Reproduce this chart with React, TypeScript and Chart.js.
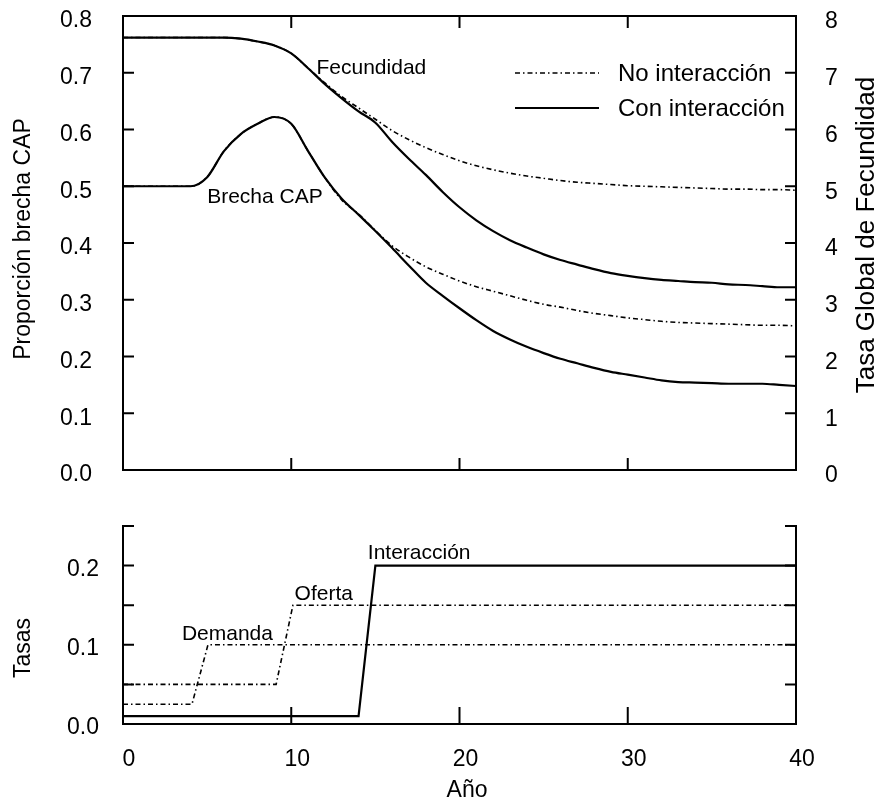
import React, { useEffect, useRef } from "react";
import { Chart, registerables } from "chart.js";

Chart.register(...registerables);

// ---------- data ----------
const years = [
  0, 1, 2, 3, 4, 5, 6, 7, 8, 9, 10, 11, 12, 13, 14, 15, 16, 17, 18, 19, 20,
  21, 22, 23, 24, 25, 26, 27, 28, 29, 30, 31, 32, 33, 34, 35, 36, 37, 38, 39, 40,
];

// Tasa Global de Fecundidad (right axis, 0-8)
const fecundidadNo = [
  7.62, 7.62, 7.62, 7.62, 7.62, 7.62, 7.62, 7.6, 7.55, 7.48, 7.34, 7.08, 6.82,
  6.58, 6.38, 6.18, 5.98, 5.82, 5.68, 5.56, 5.45, 5.36, 5.29, 5.23, 5.18, 5.14,
  5.1, 5.07, 5.05, 5.03, 5.01, 5.0, 4.99, 4.98, 4.97, 4.96, 4.95, 4.95, 4.94,
  4.94, 4.93,
];
const fecundidadCon = [
  7.62, 7.62, 7.62, 7.62, 7.62, 7.62, 7.62, 7.6, 7.55, 7.48, 7.34, 7.08, 6.8,
  6.55, 6.32, 6.12, 5.78, 5.48, 5.2, 4.9, 4.63, 4.4, 4.21, 4.05, 3.92, 3.8, 3.7,
  3.62, 3.54, 3.47, 3.42, 3.38, 3.35, 3.33, 3.31, 3.3, 3.27, 3.26, 3.24, 3.22,
  3.22,
];

// Proporción brecha CAP (left axis, 0-0.8)
const brechaNo = [
  0.5, 0.5, 0.5, 0.5, 0.5, 0.516, 0.562, 0.592, 0.61, 0.622, 0.61, 0.562, 0.515,
  0.476, 0.451, 0.422, 0.395, 0.375, 0.358, 0.345, 0.333, 0.323, 0.315, 0.307,
  0.299, 0.292, 0.287, 0.281, 0.276, 0.272, 0.268, 0.265, 0.262, 0.26, 0.259,
  0.258, 0.257, 0.256, 0.255, 0.255, 0.254,
];
const brechaCon = [
  0.5, 0.5, 0.5, 0.5, 0.5, 0.516, 0.562, 0.592, 0.61, 0.622, 0.61, 0.562, 0.515,
  0.478, 0.45, 0.421, 0.391, 0.36, 0.33, 0.307, 0.285, 0.264, 0.245, 0.23,
  0.217, 0.206, 0.196, 0.188, 0.18, 0.173, 0.168, 0.163, 0.158, 0.155, 0.154,
  0.153, 0.152, 0.152, 0.152, 0.15, 0.148,
];

// Tasas (lower panel)
const demandaYears = [0, 4.1, 5.05, 40];
const demandaValues = [0.025, 0.025, 0.1, 0.1];
const ofertaYears = [0, 9.1, 10.1, 40];
const ofertaValues = [0.05, 0.05, 0.15, 0.15];
const interaccionYears = [0, 14.0, 15.0, 40];
const interaccionValues = [0.01, 0.01, 0.2, 0.2];

// ticks
const xTicks = [0, 10, 20, 30, 40];
const brechaTicks = [0, 0.1, 0.2, 0.3, 0.4, 0.5, 0.6, 0.7, 0.8];
const tgfTicks = [0, 1, 2, 3, 4, 5, 6, 7, 8];
const tasasTicks = [0, 0.05, 0.1, 0.15, 0.2, 0.25];
const tasasLabels = [0, 0.1, 0.2];

// texts
const legendLabels = ["No interacción", "Con interacción"];
const topTitles = { left: "Proporción brecha CAP", right: "Tasa Global de Fecundidad" };
const bottomTitles = { left: "Tasas", x: "Año" };
const topNotes = [
  { text: "Fecundidad", x: 11.5, y: 7.08, axis: "y2" },
  { text: "Brecha CAP", x: 5.0, y: 0.481, axis: "y" },
];
const bottomNotes = [
  { text: "Interacción", x: 14.55, y: 0.216 },
  { text: "Oferta", x: 10.2, y: 0.164 },
  { text: "Demanda", x: 3.5, y: 0.113 },
];

// ---------- layout / style ----------
const W = 881;
const TOP_H = 500;
const BOT_H = 303;
const FONT = "'Liberation Sans', Arial, Helvetica, sans-serif";
const DOTTED = [5, 3, 1.5, 3];

const pts = (xs: number[], ys: number[]) => xs.map((x, i) => ({ x, y: ys[i] }));

function setTicks(values: number[]) {
  return (scale: any) => {
    scale.ticks = values.map((v) => ({ value: v }));
  };
}

function fix(size: { width?: number; height?: number }) {
  return (s: any) => {
    if (size.width !== undefined) s.width = size.width;
    if (size.height !== undefined) s.height = size.height;
    s.paddingTop = 0;
    s.paddingBottom = 0;
    s.paddingLeft = 0;
    s.paddingRight = 0;
  };
}

function drawText(ctx: CanvasRenderingContext2D, text: string, x: number, y: number, size: number, rot = 0, align: CanvasTextAlign = "center") {
  ctx.save();
  ctx.translate(x, y);
  if (rot) ctx.rotate(rot);
  ctx.font = `${size}px ${FONT}`;
  ctx.fillStyle = "#000";
  ctx.textAlign = align;
  ctx.textBaseline = "middle";
  ctx.fillText(text, 0, 0);
  ctx.restore();
}

const topPlugin = {
  id: "topFrame",
  afterDatasetsDraw(chart: any) {
    const { ctx, chartArea, scales } = chart;
    const { left, right, top, bottom } = chartArea;
    ctx.save();
    ctx.strokeStyle = "#000";
    ctx.lineWidth = 2;
    ctx.setLineDash([]);
    ctx.strokeRect(left, top, right - left, bottom - top);
    ctx.beginPath();
    scales.y.ticks.forEach((t: any) => {
      const p = scales.y.getPixelForValue(t.value);
      ctx.moveTo(left, p);
      ctx.lineTo(left + 11, p);
    });
    scales.y2.ticks.forEach((t: any) => {
      const p = scales.y2.getPixelForValue(t.value);
      ctx.moveTo(right, p);
      ctx.lineTo(right - 11, p);
    });
    scales.x.ticks.forEach((t: any) => {
      const p = scales.x.getPixelForValue(t.value);
      ctx.moveTo(p, bottom);
      ctx.lineTo(p, bottom - 12);
      ctx.moveTo(p, top);
      ctx.lineTo(p, top + 12);
    });
    ctx.stroke();

    // legend
    const lx0 = right - 281;
    const lx1 = right - 197;
    const rows = [top + 57, top + 92];
    ctx.lineWidth = 1.6;
    ctx.setLineDash(DOTTED);
    ctx.beginPath();
    ctx.moveTo(lx0, rows[0]);
    ctx.lineTo(lx1, rows[0]);
    ctx.stroke();
    ctx.setLineDash([]);
    ctx.lineWidth = 2.2;
    ctx.beginPath();
    ctx.moveTo(lx0, rows[1]);
    ctx.lineTo(lx1, rows[1]);
    ctx.stroke();
    ctx.restore();
    legendLabels.forEach((l, i) => drawText(ctx, l, lx1 + 19, rows[i] + 1, 24, 0, "left"));

    topNotes.forEach((n) => {
      drawText(ctx, n.text, scales.x.getPixelForValue(n.x), scales[n.axis].getPixelForValue(n.y), 21, 0, "left");
    });

    drawText(ctx, topTitles.left, 24, (top + bottom) / 2 - 4, 23, -Math.PI / 2);
    drawText(ctx, topTitles.right, 867, (top + bottom) / 2 - 8, 26, -Math.PI / 2);
  },
};

const bottomPlugin = {
  id: "bottomFrame",
  afterDatasetsDraw(chart: any) {
    const { ctx, chartArea, scales } = chart;
    const { left, right, top, bottom } = chartArea;
    ctx.save();
    ctx.strokeStyle = "#000";
    ctx.lineWidth = 2;
    ctx.setLineDash([]);
    ctx.lineCap = "square";
    ctx.beginPath();
    ctx.moveTo(left, top);
    ctx.lineTo(left, bottom);
    ctx.lineTo(right, bottom);
    ctx.lineTo(right, top);
    ctx.stroke();
    ctx.lineCap = "butt";
    ctx.beginPath();
    scales.y.ticks.forEach((t: any) => {
      const p = scales.y.getPixelForValue(t.value);
      ctx.moveTo(left, p);
      ctx.lineTo(left + 11, p);
      ctx.moveTo(right, p);
      ctx.lineTo(right - 11, p);
    });
    scales.x.ticks.forEach((t: any) => {
      const p = scales.x.getPixelForValue(t.value);
      ctx.moveTo(p, bottom);
      ctx.lineTo(p, bottom - 17);
    });
    ctx.stroke();
    ctx.restore();

    bottomNotes.forEach((n) => {
      drawText(ctx, n.text, scales.x.getPixelForValue(n.x), scales.y.getPixelForValue(n.y), 21, 0, "left");
    });
    drawText(ctx, bottomTitles.left, 24, 148, 23, -Math.PI / 2);
    drawText(ctx, bottomTitles.x, 467, 291, 23, 0);
  },
};

const tickFont = { family: FONT, size: 23 };

export default function App() {
  const topRef = useRef<HTMLCanvasElement>(null);
  const botRef = useRef<HTMLCanvasElement>(null);

  useEffect(() => {
    const dotted = { borderColor: "#000", borderWidth: 1.6, borderDash: DOTTED, pointRadius: 0, cubicInterpolationMode: "monotone" as const };
    const solid = { borderColor: "#000", borderWidth: 2.2, pointRadius: 0, cubicInterpolationMode: "monotone" as const };

    const top = new Chart(topRef.current!, {
      type: "line",
      data: {
        datasets: [
          { label: "Fecundidad no", data: pts(years, fecundidadNo), yAxisID: "y2", ...dotted },
          { label: "Brecha no", data: pts(years, brechaNo), yAxisID: "y", ...dotted },
          { label: "Fecundidad con", data: pts(years, fecundidadCon), yAxisID: "y2", ...solid },
          { label: "Brecha con", data: pts(years, brechaCon), yAxisID: "y", ...solid },
        ],
      },
      options: {
        animation: false,
        responsive: false,
        devicePixelRatio: 1,
        layout: { padding: { top: 16, left: 0, right: 0, bottom: 0 } },
        plugins: { legend: { display: false }, tooltip: { enabled: false } },
        scales: {
          x: {
            type: "linear",
            min: 0,
            max: 40,
            grid: { display: false },
            border: { display: false },
            ticks: { display: false },
            afterBuildTicks: setTicks(xTicks),
            afterFit: fix({ height: 30 }),
          },
          y: {
            position: "left",
            min: 0,
            max: 0.8,
            grid: { display: false },
            border: { display: false },
            ticks: { font: tickFont, color: "#000", padding: 23, labelOffset: 5, callback: (v: any) => Number(v).toFixed(1) },
            afterBuildTicks: setTicks(brechaTicks),
            afterFit: fix({ width: 123 }),
          },
          y2: {
            position: "right",
            min: 0,
            max: 8,
            grid: { display: false },
            border: { display: false },
            ticks: { font: tickFont, color: "#000", padding: 21, labelOffset: 6, callback: (v: any) => String(Math.round(Number(v))) },
            afterBuildTicks: setTicks(tgfTicks),
            afterFit: fix({ width: W - 796 }),
          },
        },
      },
      plugins: [topPlugin],
    } as any);

    const bottom = new Chart(botRef.current!, {
      type: "line",
      data: {
        datasets: [
          { label: "Demanda", data: pts(demandaYears, demandaValues), ...dotted, cubicInterpolationMode: "default", tension: 0 },
          { label: "Oferta", data: pts(ofertaYears, ofertaValues), ...dotted, cubicInterpolationMode: "default", tension: 0 },
          { label: "Interacción", data: pts(interaccionYears, interaccionValues), ...solid, cubicInterpolationMode: "default", tension: 0 },
        ],
      },
      options: {
        animation: false,
        responsive: false,
        devicePixelRatio: 1,
        layout: { padding: { top: 26, left: 0, right: W - 796, bottom: 0 } },
        plugins: { legend: { display: false }, tooltip: { enabled: false } },
        scales: {
          x: {
            type: "linear",
            min: 0,
            max: 40,
            grid: { display: false },
            border: { display: false },
            ticks: { font: tickFont, color: "#000", padding: 14, labelOffset: 6, maxRotation: 0, callback: (v: any) => String(Math.round(Number(v))) },
            afterBuildTicks: setTicks(xTicks),
            afterFit: fix({ height: 79 }),
          },
          y: {
            position: "left",
            min: 0,
            max: 0.25,
            grid: { display: false },
            border: { display: false },
            ticks: {
              font: tickFont,
              color: "#000",
              padding: 16,
              labelOffset: 4,
              callback: (v: any) => (tasasLabels.some((l) => Math.abs(l - Number(v)) < 1e-6) ? Number(v).toFixed(1) : ""),
            },
            afterBuildTicks: setTicks(tasasTicks),
            afterFit: fix({ width: 123 }),
          },
        },
      },
      plugins: [bottomPlugin],
    } as any);

    return () => {
      top.destroy();
      bottom.destroy();
    };
  }, []);

  return (
    <div style={{ position: "absolute", left: 0, top: 0, width: W, height: TOP_H + BOT_H, background: "#fff" }}>
      <canvas ref={topRef} width={W} height={TOP_H} style={{ position: "absolute", left: 0, top: 0, width: W, height: TOP_H }} />
      <canvas ref={botRef} width={W} height={BOT_H} style={{ position: "absolute", left: 0, top: TOP_H, width: W, height: BOT_H }} />
    </div>
  );
}
